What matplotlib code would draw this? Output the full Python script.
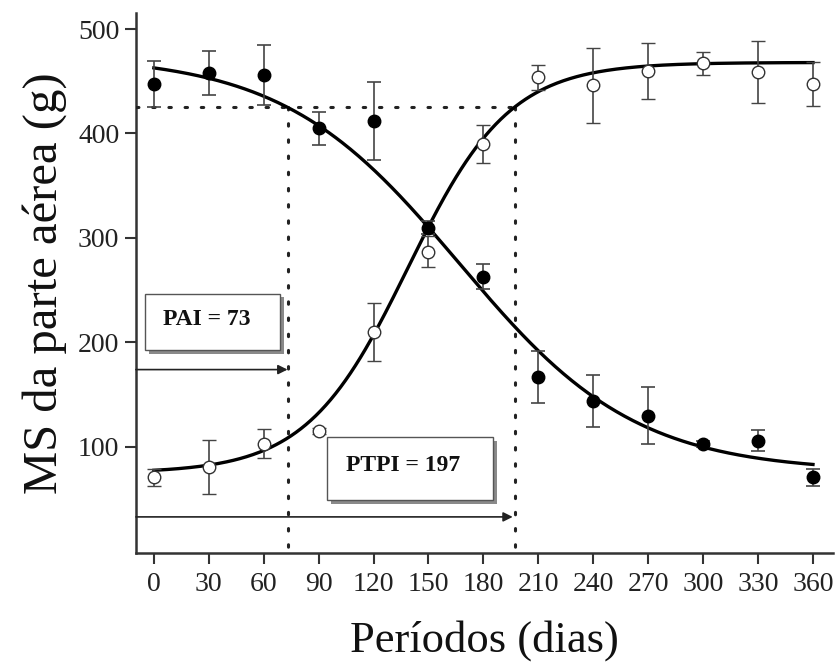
import numpy as np
import matplotlib
matplotlib.use("Agg")
import matplotlib.pyplot as plt
from matplotlib.patches import Rectangle

plt.rcParams['font.family'] = ['Liberation Serif', 'DejaVu Serif']

# ---- data ----
days = [0, 30, 60, 90, 120, 150, 180, 210, 240, 270, 300, 330, 360]
filled_vals = [447, 458, 456, 405, 412, 310, 263, 167, 144, 130, 103, 106, 71]
filled_err = [22, 21, 29, 16, 37, 6, 12, 25, 25, 27, 3, 10, 8]
open_vals = [71, 81, 103, 115, 210, 287, 390, 454, 446, 460, 467, 459, 447]
open_err = [8, 26, 14, 3, 28, 15, 18, 12, 36, 27, 11, 30, 21]

# fitted sigmoid models (upper, lower, midpoint, slope)
dec_params = (475, 76, 166.9, 48.3)
inc_params = (75, 468, 138.8, 27.7)

pai = 73
ptpi = 197
ref_level = 425
pai_label = "PAI = 73"
ptpi_label = "PTPI = 197"
xticks = list(range(0, 361, 30))
yticks = [100, 200, 300, 400, 500]

# ---- figure ----
fig = plt.figure(figsize=(8.39, 6.67), dpi=100)
ax = fig.add_axes([0.162, 0.171, 0.831, 0.809])
xlim = (-9.8, 371)
ax.set_xlim(*xlim)
ax.set_ylim(-1.5, 515)

xs = np.linspace(0, 360, 400)
a, b, x0, k = dec_params
ax.plot(xs, b + (a - b) / (1 + np.exp((xs - x0) / k)), color='black', lw=2.4, zorder=4)
c, d, x1, m = inc_params
ax.plot(xs, c + (d - c) / (1 + np.exp(-(xs - x1) / m)), color='black', lw=2.4, zorder=4)

ax.errorbar(days, filled_vals, yerr=filled_err, fmt='o', color='black', ms=9,
            mfc='black', mec='black', ecolor='#444444', elinewidth=1.2,
            capsize=5, capthick=1.2, zorder=5)
ax.errorbar(days, open_vals, yerr=open_err, fmt='o', color='black', ms=9,
            mfc='white', mec='#333333', mew=1.0, ecolor='#444444', elinewidth=1.2,
            capsize=5, capthick=1.2, zorder=5)

dot = (0, (0.8, 4.5))
ax.plot([xlim[0], ptpi], [ref_level, ref_level], color='#222222', lw=2.2,
        linestyle=dot, dash_capstyle='round', zorder=3)
ax.plot([pai, pai], [ref_level, -1.5], color='#222222', lw=2.2,
        linestyle=dot, dash_capstyle='round', zorder=3)
ax.plot([ptpi, ptpi], [ref_level, -1.5], color='#222222', lw=2.2,
        linestyle=dot, dash_capstyle='round', zorder=3)

# arrows
ax.annotate('', xy=(pai, 174), xytext=(xlim[0], 174),
            arrowprops=dict(arrowstyle='-|>', color='#222222', lw=1.2,
                            mutation_scale=14, shrinkA=0, shrinkB=0))
ax.annotate('', xy=(ptpi - 1, 33), xytext=(xlim[0], 33),
            arrowprops=dict(arrowstyle='-|>', color='#222222', lw=1.2,
                            mutation_scale=14, shrinkA=0, shrinkB=0))

# text boxes with shadow
def shadow_box(x0, y0, w, h, label):
    sx, sy = 2.2, -3.5
    ax.add_patch(Rectangle((x0 + sx, y0 + sy), w, h, facecolor='#8a8a8a',
                           edgecolor='none', zorder=6))
    ax.add_patch(Rectangle((x0, y0), w, h, facecolor='white',
                           edgecolor='#555555', lw=1.0, zorder=7))
    ax.text(x0 + w * 0.46, y0 + h * 0.54, label, ha='center', va='center',
            fontsize=17, fontweight='bold', color='#111111', zorder=8)

shadow_box(-4.9, 192.4, 73.7, 54.3, pai_label)
shadow_box(94.5, 49.3, 90.5, 60.3, ptpi_label)

ax.set_xticks(xticks)
ax.set_yticks(yticks)
ax.tick_params(axis='both', direction='out', length=8, width=1.5,
               labelsize=20, color='#333333', labelcolor='#222222')
ax.tick_params(axis='x', pad=6)
ax.tick_params(axis='y', pad=4)
for s in ['top', 'right']:
    ax.spines[s].set_visible(False)
for s in ['left', 'bottom']:
    ax.spines[s].set_linewidth(1.8)
    ax.spines[s].set_color('#333333')

ax.set_ylabel('MS da parte aérea (g)', fontsize=35, color='#111111', labelpad=8)
ax.set_xlabel('Períodos (dias)', fontsize=32, color='#111111', labelpad=16)

fig.savefig('out.png', dpi=100)
